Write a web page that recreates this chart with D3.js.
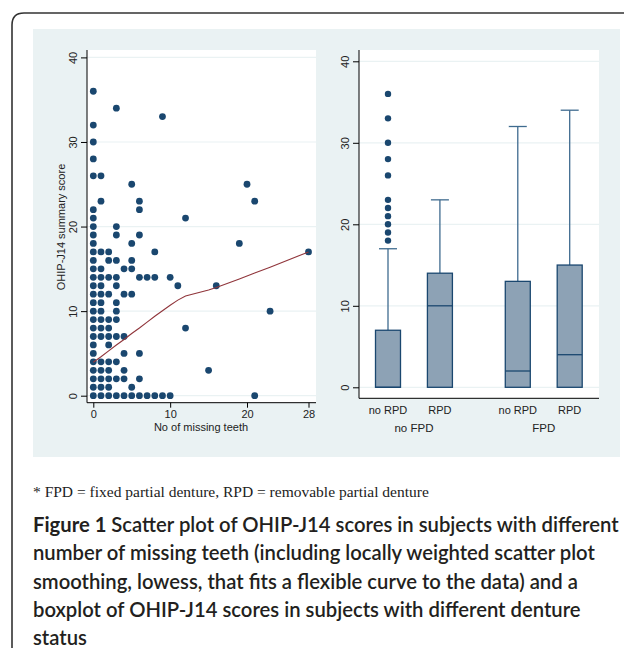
<!DOCTYPE html>
<html>
<head>
<meta charset="utf-8">
<script src="https://cdn.jsdelivr.net/npm/d3@7"></script>
<style>
  body { margin: 0; background: #fff; }
  svg { display: block; }
</style>
</head>
<body>
<div id="chart"></div>
<script>
// scatter: OHIP-J14 score rows and the missing-teeth values seen on each row
const scoreLevels = [36, 34, 33, 32, 30, 28, 26, 25, 23, 22, 21, 20, 19, 18, 17, 16, 15, 14, 13, 12, 11, 10, 9, 8, 7, 6, 5, 4, 3, 2, 1, 0];
const teethAtScore = [
    [0], [3], [9], [0], [0], [0], [0, 1], [5, 20], [1, 6, 21], [0, 6], [0, 12], [0, 3],
    [0, 3, 6], [0, 5, 19], [0, 1, 2, 8, 28], [0, 2, 3, 5], [0, 1, 4, 5], [0, 1, 2, 3, 6, 7, 8, 10],
    [0, 1, 3, 11, 16], [0, 1, 2, 4, 5], [0, 1, 3], [0, 1, 3, 23], [0, 1, 2, 3], [0, 1, 2, 12],
    [0, 1, 2, 3, 4], [0, 2], [0, 4, 6], [0, 1, 2, 3], [0, 1, 2, 4, 15], [0, 1, 2, 3, 4, 6],
    [0, 1, 2, 5], [0, 1, 2, 3, 4, 5, 6, 7, 8, 9, 10, 21]
];

// lowess smoother
const lowessX = [0, 1, 2, 3, 4, 5, 6, 7, 8, 9, 10, 11, 12, 15, 16, 19, 20, 21, 23, 28];
const lowessY = [3.95, 4.6, 5.3, 6.0, 6.65, 7.35, 8.0, 8.7, 9.4, 10.05, 10.7, 11.3, 11.8, 12.5, 12.8, 13.8, 14.15, 14.5, 15.2, 17.0];

// boxplot
const boxLabels = ["no RPD", "RPD", "no RPD", "RPD"];
const boxGroups = ["no FPD", "no FPD", "FPD", "FPD"];
const boxQ1 = [0, 0, 0, 0];
const boxMedian = [0, 10, 2, 4];
const boxQ3 = [7, 14, 13, 15];
const boxUpper = [17, 23, 32, 34];
const boxOutliers = [[18, 19, 20, 21, 22, 23, 26, 28, 30, 33, 36], [], [], []];

const yTicks = [0, 10, 20, 30, 40];
const scatterXTicks = [0, 10, 20, 28];

const navy = "#1a476f";
const gridColor = "#eaf2f3";
const axisFont = "'Liberation Sans', Arial, sans-serif";

const svg = d3.select("#chart").append("svg")
    .attr("width", 624)
    .attr("height", 648);

// outer frame with rounded top-left corner
svg.append("path")
    .attr("d", "M12,660 L12,25 Q12,13 24,13 L640,13")
    .attr("fill", "none")
    .attr("stroke", "#333")
    .attr("stroke-width", 1.6);

// graph background
svg.append("rect")
    .attr("x", 33).attr("y", 29)
    .attr("width", 587).attr("height", 428)
    .attr("fill", "#eaf2f3");

// ---------- left panel: scatter ----------
const x = d3.scaleLinear().domain([0, 28]).range([93.3, 308.5]);
const y = d3.scaleLinear().domain([0, 40]).range([395.7, 57.4]);

svg.append("rect")
    .attr("x", 87).attr("y", 50)
    .attr("width", 229).attr("height", 352.7)
    .attr("fill", "#fff");

svg.append("g").selectAll("line")
    .data(yTicks)
    .enter().append("line")
    .attr("x1", 87).attr("x2", 316)
    .attr("y1", d => y(d)).attr("y2", d => y(d))
    .attr("stroke", gridColor).attr("stroke-width", 1.2);

const points = scoreLevels.flatMap((s, i) => teethAtScore[i].map(t => ({ teeth: t, score: s })));

svg.append("g").selectAll("circle")
    .data(points)
    .enter().append("circle")
    .attr("cx", d => x(d.teeth))
    .attr("cy", d => y(d.score))
    .attr("r", 3.4)
    .attr("fill", navy);

svg.append("path")
    .datum(lowessX.map((v, i) => [v, lowessY[i]]))
    .attr("fill", "none")
    .attr("stroke", "#90353b")
    .attr("stroke-width", 1.1)
    .attr("d", d3.line().x(d => x(d[0])).y(d => y(d[1])));

const leftAxis = svg.append("g")
    .attr("transform", "translate(87,0)")
    .call(d3.axisLeft(y).tickValues(yTicks).tickSize(6).tickPadding(4));
leftAxis.select(".domain").attr("d", "M0,50V402.7");

const bottomAxis = svg.append("g")
    .attr("transform", "translate(0,402.7)")
    .call(d3.axisBottom(x).tickValues(scatterXTicks).tickSize(5).tickPadding(3));
bottomAxis.select(".domain").attr("d", "M87,0H316");

svg.append("text")
    .attr("x", 201).attr("y", 431)
    .attr("text-anchor", "middle")
    .attr("font-family", axisFont)
    .attr("font-size", 11)
    .attr("fill", "#222")
    .text("No of missing teeth");

svg.append("text")
    .attr("transform", "translate(65,227) rotate(-90)")
    .attr("text-anchor", "middle")
    .attr("font-family", axisFont)
    .attr("font-size", 11)
    .attr("fill", "#222")
    .text("OHIP-J14 summary score");

// ---------- right panel: boxplot ----------
const yb = d3.scaleLinear().domain([0, 40]).range([387.3, 61.3]);
const slot = [0, 1, 2.5, 3.5];
const xb = d3.scaleLinear().domain([0, 3.5]).range([388, 569.7]);
const boxW = 25;
const capW = 18;

svg.append("rect")
    .attr("x", 359).attr("y", 50)
    .attr("width", 240).attr("height", 348.3)
    .attr("fill", "#fff");

svg.append("g").selectAll("line")
    .data(yTicks)
    .enter().append("line")
    .attr("x1", 359).attr("x2", 599)
    .attr("y1", d => yb(d)).attr("y2", d => yb(d))
    .attr("stroke", gridColor).attr("stroke-width", 1.2);

const boxes = svg.append("g").selectAll("g")
    .data(boxLabels.map((l, i) => ({
        label: l, group: boxGroups[i], q1: boxQ1[i], med: boxMedian[i],
        q3: boxQ3[i], hi: boxUpper[i], out: boxOutliers[i], cx: xb(slot[i])
    })))
    .enter().append("g");

boxes.append("line")
    .attr("x1", d => d.cx).attr("x2", d => d.cx)
    .attr("y1", d => yb(d.q3)).attr("y2", d => yb(d.hi))
    .attr("stroke", "#3f6b8f").attr("stroke-width", 1.3);

boxes.append("line")
    .attr("x1", d => d.cx - capW / 2).attr("x2", d => d.cx + capW / 2)
    .attr("y1", d => yb(d.hi)).attr("y2", d => yb(d.hi))
    .attr("stroke", "#3f6b8f").attr("stroke-width", 1.3);

boxes.append("rect")
    .attr("x", d => d.cx - boxW / 2)
    .attr("y", d => yb(d.q3))
    .attr("width", boxW)
    .attr("height", d => yb(d.q1) - yb(d.q3))
    .attr("fill", "#8da2b5")
    .attr("stroke", navy)
    .attr("stroke-width", 1.3);

boxes.append("line")
    .attr("x1", d => d.cx - boxW / 2).attr("x2", d => d.cx + boxW / 2)
    .attr("y1", d => yb(d.med)).attr("y2", d => yb(d.med))
    .attr("stroke", navy).attr("stroke-width", 1.3);

boxes.selectAll("circle")
    .data(d => d.out.map(v => ({ v: v, cx: d.cx })))
    .enter().append("circle")
    .attr("cx", d => d.cx)
    .attr("cy", d => yb(d.v))
    .attr("r", 3.2)
    .attr("fill", navy);

const boxAxis = svg.append("g")
    .attr("transform", "translate(359,0)")
    .call(d3.axisLeft(yb).tickValues(yTicks).tickSize(6).tickPadding(4));
boxAxis.select(".domain").attr("d", "M0,50V398.3");

svg.append("line")
    .attr("x1", 359).attr("x2", 599)
    .attr("y1", 398.3).attr("y2", 398.3)
    .attr("stroke", "#000");

svg.append("g").selectAll("text")
    .data(boxLabels)
    .enter().append("text")
    .attr("x", (d, i) => xb(slot[i]))
    .attr("y", 414)
    .attr("text-anchor", "middle")
    .attr("font-family", axisFont)
    .attr("font-size", 11)
    .attr("fill", "#222")
    .text(d => d);

const groupNames = ["no FPD", "FPD"];
svg.append("g").selectAll("text")
    .data(groupNames)
    .enter().append("text")
    .attr("x", d => {
        const idx = boxGroups.map((g, i) => g === d ? slot[i] : null).filter(v => v !== null);
        return xb(d3.mean(idx));
    })
    .attr("y", 432)
    .attr("text-anchor", "middle")
    .attr("font-family", axisFont)
    .attr("font-size", 11.5)
    .attr("fill", "#222")
    .text(d => d);

// rotated y tick labels as in the original
svg.selectAll(".tick text").attr("font-family", axisFont).attr("font-size", 11).attr("fill", "#222");
[leftAxis, boxAxis].forEach(a => {
    a.selectAll(".tick text")
        .attr("x", null).attr("dy", null)
        .attr("text-anchor", "middle")
        .attr("transform", "translate(-14,0) rotate(-90)")
        .attr("y", 4);
});

// ---------- notes ----------
svg.append("text")
    .attr("x", 33).attr("y", 497)
    .attr("font-family", "'Liberation Serif', 'Times New Roman', serif")
    .attr("font-size", 15.5)
    .attr("fill", "#222")
    .text("* FPD = fixed partial denture, RPD = removable partial denture");

const captionLines = [
    "Scatter plot of OHIP-J14 scores in subjects with different",
    "number of missing teeth (including locally weighted scatter plot",
    "smoothing, lowess, that fits a flexible curve to the data) and a",
    "boxplot of OHIP-J14 scores in subjects with different denture",
    "status"
];
const caption = svg.append("text")
    .attr("font-family", "Lato, 'Open Sans', sans-serif")
    .attr("font-size", 18)
    .attr("fill", "#231f20");
captionLines.forEach((line, i) => {
    const t = caption.append("tspan").attr("x", 33).attr("y", 532 + i * 28.3);
    if (i === 0) {
        t.append("tspan").attr("font-weight", "bold").text("Figure 1 ");
    }
    t.append("tspan").attr("font-weight", 600).text(line);
});
// widen the caption so its first line runs to the right edge as in the original
const firstLine = caption.select("tspan").node();
const w = firstLine.getComputedTextLength();
caption.attr("font-size", 18 * 586 / w);
</script>
</body>
</html>
